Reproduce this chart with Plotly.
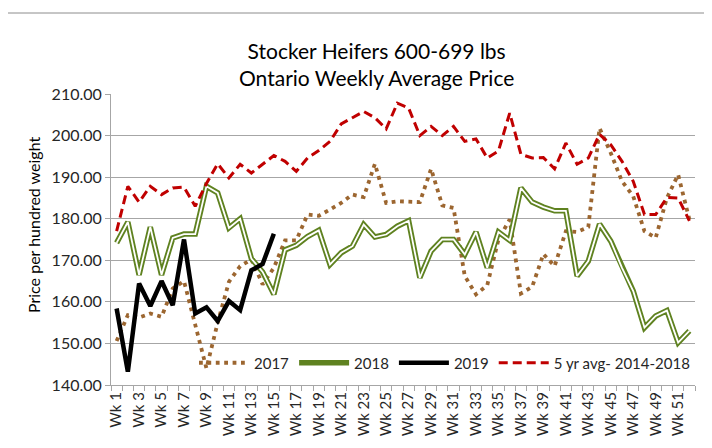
import plotly.graph_objects as go

weeks = list(range(1, 53))
label_weeks = [w for w in weeks if w % 2 == 1]
label_text = [f"Wk {w}" for w in label_weeks]

y2017 = [150.6, 156.8, 156.2, 157.2, 156.4, 163.2, 165.0, 154.5, 144.0, 155.0,
         164.8, 168.6, 170.2, 164.2, 168.2, 174.8, 174.8, 181.0, 180.7, 182.2,
         183.8, 185.8, 185.2, 193.2, 183.8, 184.2, 184.2, 184.0, 192.0, 183.2,
         182.6, 166.2, 161.8, 164.0, 175.0, 179.8, 162.0, 163.6, 171.5, 168.6,
         177.0, 176.8, 178.0, 201.8, 195.8, 189.0, 185.4, 177.0, 175.4, 185.0,
         190.6, 179.8]

y2018 = [174.2, 179.2, 166.5, 178.0, 166.5, 175.4, 176.3, 176.3, 187.8, 186.2,
         177.8, 180.0, 170.4, 167.2, 161.8, 172.5, 173.6, 175.7, 177.2, 169.0,
         171.8, 173.4, 178.6, 175.6, 176.2, 178.2, 179.5, 165.8, 172.2, 175.0,
         175.0, 171.4, 176.8, 168.2, 176.8, 174.8, 187.4, 184.0, 182.8, 181.9,
         181.9, 166.2, 169.8, 178.7, 174.6, 168.2, 162.6, 153.8, 156.6, 157.9,
         150.2, 153.0]

weeks2019 = list(range(1, 16))
y2019 = [158.4, 143.2, 164.4, 159.0, 165.0, 159.2, 175.0, 157.2, 158.7, 155.4,
         160.2, 158.0, 167.6, 169.1, 176.4]

y5yr = [177.0, 187.8, 184.0, 187.8, 185.8, 187.4, 187.6, 183.0, 188.5, 193.2,
        189.8, 193.1, 191.0, 193.2, 195.2, 193.8, 191.4, 194.6, 196.4, 198.6,
        202.8, 204.3, 205.8, 204.3, 201.6, 207.8, 206.6, 200.0, 202.2, 200.0,
        202.2, 198.6, 199.2, 194.6, 196.3, 205.4, 195.5, 194.6, 194.7, 192.0,
        198.2, 193.1, 194.6, 200.3, 197.8, 193.8, 189.0, 181.0, 181.0, 185.1,
        185.0, 179.5]

series_names = ["2017", "2018", "2019", "5 yr avg- 2014-2018"]
title_lines = ["Stocker Heifers 600-699 lbs", "Ontario Weekly Average Price"]
y_title = "Price per hundred weight"

FONT = "Lato, 'Open Sans', sans-serif"
GRID = "#A6A6A6"

fig = go.Figure()
fig.add_trace(go.Scatter(x=weeks, y=y2017, mode="lines", name=series_names[0],
                         line=dict(color="#9C6630", width=3.8, dash="3.8px,4.6px")))
fig.add_trace(go.Scatter(x=weeks, y=y2018, mode="lines", name=series_names[1],
                         line=dict(color="#5F8220", width=5.5)))
fig.add_trace(go.Scatter(x=weeks, y=y2018, mode="lines", showlegend=False,
                         hoverinfo="skip", line=dict(color="white", width=1.8)))
fig.add_trace(go.Scatter(x=weeks2019, y=y2019, mode="lines", name=series_names[2],
                         line=dict(color="black", width=4.5)))
fig.add_trace(go.Scatter(x=weeks, y=y5yr, mode="lines", name=series_names[3],
                         line=dict(color="#C00000", width=3, dash="9px,5px")))

L, R, T, B = 103, 25, 86, 71
W, H = 712, 448
pw = W - L - R
ph = H - T - B

def px2x(px):
    return (px - L) / pw

def px2y(py):
    return (H - B - py) / ph

fig.update_layout(
    width=W, height=H, autosize=False,
    margin=dict(l=L, r=R, t=T, b=B, pad=0),
    paper_bgcolor="white", plot_bgcolor="white",
    font=dict(family=FONT, size=15, color="#404040"),
    showlegend=True,
    legend=dict(orientation="h", x=px2x(186), xanchor="left", y=px2y(355), yanchor="middle",
                bgcolor="rgba(0,0,0,0)", font=dict(size=15, color="#262626"),
                itemwidth=50, traceorder="normal"),
    xaxis=dict(range=[0.5, 52.5], tickmode="array", tickvals=label_weeks, ticktext=label_text,
               tickangle=-90, ticks="", showgrid=False, zeroline=False,
               showline=True, linecolor=GRID, linewidth=1,
               tickfont=dict(size=15, color="#262626"),
               minor=dict(tickmode="array", tickvals=[w + 0.5 for w in [0] + weeks],
                          ticks="outside", ticklen=5, tickcolor=GRID, showgrid=False)),
    yaxis=dict(range=[140, 210], tickmode="linear", tick0=140, dtick=10, tickformat=".2f",
               showgrid=True, gridcolor=GRID, gridwidth=1, zeroline=False,
               showline=True, linecolor=GRID, linewidth=1,
               ticks="outside", ticklen=5, tickcolor=GRID,
               tickfont=dict(size=16, color="#262626")),
    annotations=[
        dict(text="<br>".join(title_lines), xref="paper", yref="paper",
             x=px2x(368), y=px2y(56), xanchor="center", yanchor="middle",
             showarrow=False, font=dict(size=21, color="#000000", family=FONT)),
        dict(text=y_title, xref="paper", yref="paper", x=px2x(25), y=px2y(217),
             xanchor="center", yanchor="middle", textangle=-90, showarrow=False,
             font=dict(size=16, color="#000000", family=FONT)),
    ],
    shapes=[dict(type="rect", xref="paper", yref="paper",
                 x0=px2x(-60), x1=px2x(704.5), y0=px2y(470), y1=px2y(5),
                 line=dict(color="#8C8C8C", width=1), fillcolor="rgba(0,0,0,0)", layer="below")],
)

fig.write_html("out.html")
